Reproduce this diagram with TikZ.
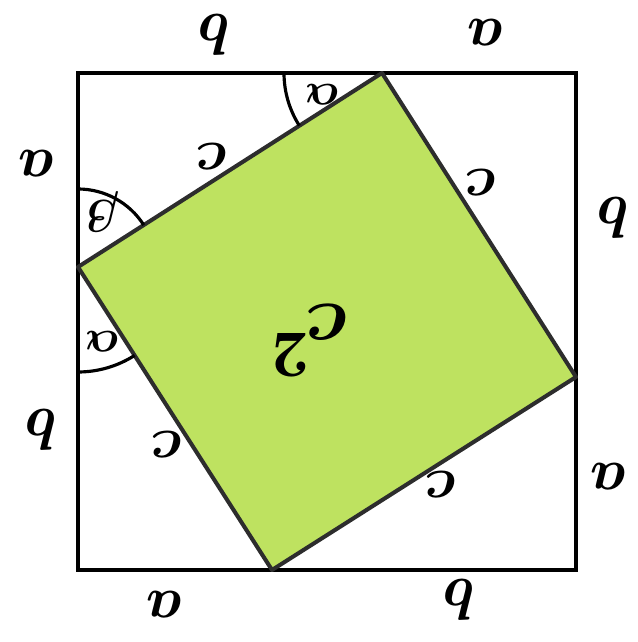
\documentclass[tikz,border=0pt]{standalone}
\usepackage{tikz}

\begin{document}
\begin{tikzpicture}[x=0.02cm, y=0.02cm,
  lbl/.style={rotate=180, inner sep=0pt, scale=1.35, transform shape, font=\Huge\boldmath},
  anglbl/.style={rotate=180, inner sep=0pt, scale=1.05, transform shape, font=\Huge\boldmath},
  biglbl/.style={lbl, scale=1.35},
  edge/.style={line width=2.3pt, draw={rgb,255:red,45;green,45;blue,45}},
  angarc/.style={line width=1.8pt}]
  \useasboundingbox (0,0) rectangle (637,642);
  \definecolor{leafgreen}{RGB}{190,226,96}
  % corners of the outer square
  \coordinate (sq_tl) at (78,569);
  \coordinate (sq_tr) at (576,569);
  \coordinate (sq_br) at (576,72);
  \coordinate (sq_bl) at (78,72);
  % corners of the tilted square
  \coordinate (in_top) at (382,569);
  \coordinate (in_right) at (576,265);
  \coordinate (in_bottom) at (272,72);
  \coordinate (in_left) at (78,375);
  % draw filled tilted square
  \fill[leafgreen] (in_top) -- (in_right) -- (in_bottom) -- (in_left) -- cycle;
  % draw outer square
  \draw[line width=1.8pt] (sq_tl) -- (sq_tr) -- (sq_br) -- (sq_bl) -- cycle;
  \draw[edge, line join=round] (in_top) -- (in_right) -- (in_bottom) -- (in_left) -- cycle;
  % draw angle arcs
  \draw[angarc] (in_top) ++(180:98) arc[start angle=180, end angle=212.5, radius=98];
  \draw[angarc] (in_left) ++(32.5:78) arc[start angle=32.5, end angle=90, radius=78];
  \draw[angarc] (in_left) ++(270:105) arc[start angle=270, end angle=302.6, radius=105];
  % draw angle labels
  \node[anglbl] (ang_top) at (322,547) {$\alpha$};
  \node[anglbl] (ang_left_up) at (103,430) {$\beta$};
  \node[anglbl] (ang_left_dn) at (102,300) {$\alpha$};
  % draw outer side labels
  \node[lbl] (side_top_b) at (215,607) {$b$};
  \node[lbl] (side_top_a) at (486,609) {$a$};
  \node[lbl] (side_left_a) at (37,478) {$a$};
  \node[lbl] (side_left_b) at (42,212) {$b$};
  \node[lbl] (side_right_b) at (614,424) {$b$};
  \node[lbl] (side_right_a) at (609,165) {$a$};
  \node[lbl] (side_bot_a) at (165,37) {$a$};
  \node[lbl] (side_bot_b) at (460,42) {$b$};
  % draw hypotenuse labels
  \node[lbl] (hyp_tl) at (213,485) {$c$};
  \node[lbl] (hyp_tr) at (482,459) {$c$};
  \node[lbl] (hyp_bl) at (168,197) {$c$};
  \node[lbl] (hyp_br) at (442,157) {$c$};
  \node[biglbl] (area) at (310,302) {$c^2$};
\end{tikzpicture}
\end{document}
